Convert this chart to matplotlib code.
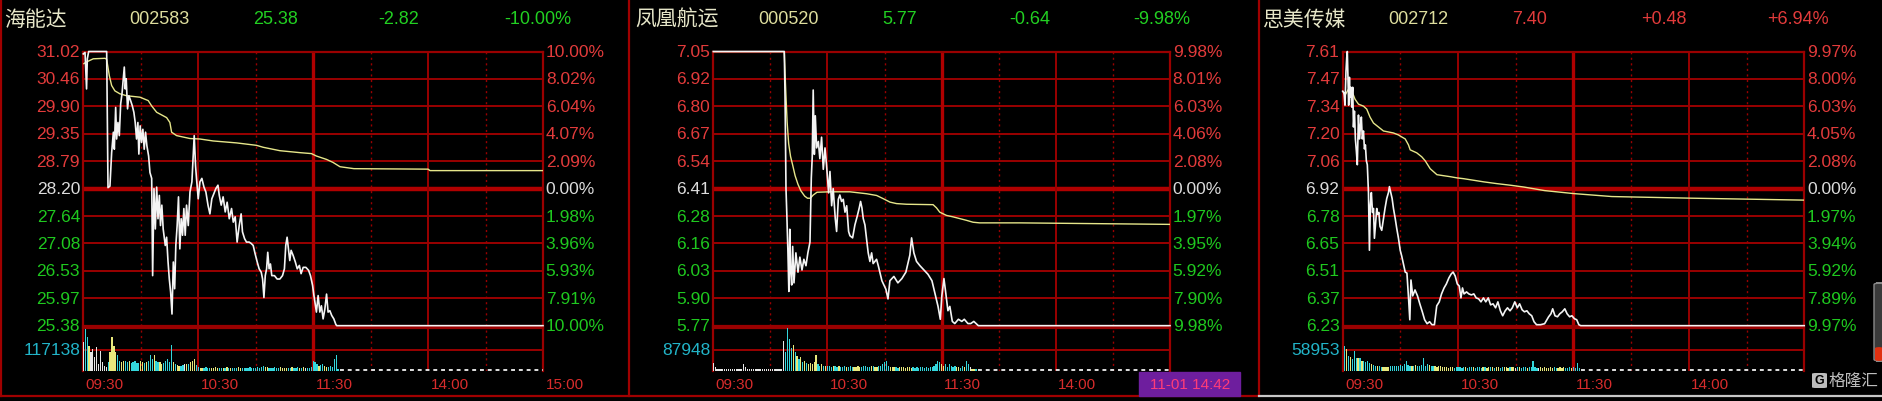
import numpy as np
import matplotlib
matplotlib.use("Agg")
import matplotlib.pyplot as plt
from matplotlib.lines import Line2D
from matplotlib.patches import Rectangle, FancyBboxPatch

# ---- data ----
# minute index: 0 = 09:30, 120 = 11:30/13:00, 240 = 15:00

names = ["海能达", "凤凰航运", "思美传媒"]
codes = ["002583", "000520", "002712"]
last_prices = ["25.38", "5.77", "7.40"]
changes = ["-2.82", "-0.64", "+0.48"]
change_pcts = ["-10.00%", "-9.98%", "+6.94%"]
vol_labels = ["117138", "87948", "58953"]
time_labels = ["09:30", "10:30", "11:30", "14:00", "15:00"]
time_ticks = [0, 60, 120, 180, 240]

price_labels_1 = ["31.02", "30.46", "29.90", "29.35", "28.79", "28.20", "27.64", "27.08", "26.53", "25.97", "25.38"]
pct_labels_1 = ["10.00%", "8.02%", "6.04%", "4.07%", "2.09%", "0.00%", "1.98%", "3.96%", "5.93%", "7.91%", "10.00%"]
price_labels_2 = ["7.05", "6.92", "6.80", "6.67", "6.54", "6.41", "6.28", "6.16", "6.03", "5.90", "5.77"]
pct_labels_2 = ["9.98%", "8.01%", "6.03%", "4.06%", "2.08%", "0.00%", "1.97%", "3.95%", "5.92%", "7.90%", "9.98%"]
price_labels_3 = ["7.61", "7.47", "7.34", "7.20", "7.06", "6.92", "6.78", "6.65", "6.51", "6.37", "6.23"]
pct_labels_3 = ["9.97%", "8.00%", "6.03%", "4.05%", "2.08%", "0.00%", "1.97%", "3.94%", "5.92%", "7.89%", "9.97%"]

# (minute, price) for the white price line
line_1 = [(0, 30.97), (0.9, 31.00), (1.7, 30.25), (2.1, 30.87), (2.8, 31.02), (12.2, 31.02), (12.9, 28.22),
          (13.9, 28.25), (14.8, 28.94), (15.7, 29.36), (16.2, 29.01), (16.9, 29.87), (17.4, 29.22), (18.1, 29.56),
          (18.8, 29.29), (19.5, 29.94), (20.2, 30.15), (20.9, 30.46), (21.4, 30.70), (21.9, 30.25), (22.4, 30.46),
          (23.1, 29.84), (23.8, 30.11), (24.7, 30.01), (25.6, 29.90), (26.4, 29.77), (27.1, 29.56), (27.8, 29.22),
          (28.5, 29.56), (29.0, 28.91), (29.7, 29.49), (30.4, 29.15), (31.1, 29.42), (31.8, 29.01), (32.5, 29.36),
          (33.2, 29.08), (34.1, 28.87), (34.8, 28.53), (35.7, 28.41), (36.2, 26.41), (36.9, 28.20), (37.6, 27.37),
          (38.3, 28.23), (39.0, 27.58), (39.7, 28.06), (40.3, 27.44), (41.0, 27.86), (41.7, 27.37), (42.8, 27.03),
          (43.5, 27.20), (44.2, 26.72), (44.9, 26.34), (45.6, 26.07), (46.3, 25.62), (47.0, 26.69), (47.7, 26.14),
          (48.3, 27.03), (49.0, 27.44), (49.7, 28.03), (50.4, 26.96), (51.1, 27.58), (51.8, 27.24), (52.5, 27.79),
          (53.2, 27.24), (53.9, 27.86), (54.8, 27.44), (55.7, 28.13), (56.7, 28.34), (57.9, 29.29), (58.6, 28.67),
          (59.1, 28.41), (60.0, 27.99), (60.9, 28.34), (61.9, 28.41), (63.0, 28.23), (64.0, 28.13), (65.1, 27.86),
          (66.1, 27.68), (67.1, 27.99), (68.2, 28.10), (69.2, 28.20), (70.3, 28.27), (71.0, 28.06), (72.0, 27.86),
          (73.0, 28.03), (74.1, 27.72), (75.1, 27.92), (76.2, 27.58), (77.4, 27.79), (78.3, 27.51), (79.3, 27.62),
          (80.3, 27.10), (81.4, 27.44), (82.4, 27.68), (83.1, 27.31), (84.2, 27.17), (85.2, 27.10), (86.6, 27.10),
          (87.7, 27.07), (88.7, 27.03), (89.7, 26.86), (90.8, 26.69), (91.8, 26.55), (92.9, 26.48), (93.6, 26.34),
          (94.3, 25.96), (95.0, 26.41), (95.7, 26.55), (96.3, 26.89), (97.0, 26.55), (97.7, 26.65), (98.4, 26.41),
          (99.8, 26.41), (101.2, 26.34), (102.6, 26.34), (104.0, 26.41), (105.0, 26.55), (105.7, 27.03),
          (106.4, 27.20), (107.1, 26.96), (107.8, 26.72), (108.5, 26.93), (109.6, 26.82), (110.7, 26.69),
          (111.7, 26.55), (112.8, 26.62), (113.7, 26.45), (114.8, 26.58), (116.2, 26.58), (117.6, 26.52),
          (118.6, 26.41), (119.7, 26.21), (120.3, 26.03), (121.7, 25.66), (122.6, 26.00), (123.5, 25.66),
          (124.3, 25.79), (125.2, 25.52), (126.1, 25.72), (127.0, 26.03), (127.8, 25.66), (128.7, 25.69),
          (129.7, 25.59), (130.8, 25.52), (131.8, 25.41), (132.3, 25.38), (240, 25.38)]

line_2 = [(0, 7.05), (37.3, 7.05), (37.7, 6.84), (38.2, 6.41), (38.6, 6.30), (39.2, 6.12), (39.7, 5.93),
          (40.2, 6.22), (40.6, 6.03), (41.2, 5.96), (41.7, 6.14), (42.4, 5.97), (43.4, 6.11), (44.5, 6.02),
          (45.5, 6.09), (46.6, 6.03), (47.6, 6.08), (48.7, 6.05), (49.7, 6.11), (50.8, 6.16), (51.5, 6.46),
          (52.0, 6.56), (52.5, 6.87), (53.1, 6.57), (53.6, 6.75), (54.3, 6.60), (55.2, 6.63), (56.0, 6.55),
          (56.9, 6.65), (57.8, 6.50), (58.7, 6.60), (59.5, 6.52), (60.6, 6.39), (61.3, 6.49), (62.2, 6.33),
          (63.0, 6.41), (64.1, 6.27), (64.8, 6.21), (65.7, 6.36), (66.5, 6.38), (67.4, 6.35), (68.3, 6.36),
          (69.2, 6.30), (70.1, 6.33), (71.1, 6.21), (71.8, 6.19), (73.2, 6.18), (74.4, 6.24), (75.6, 6.28),
          (76.7, 6.32), (77.4, 6.35), (78.1, 6.32), (78.8, 6.27), (79.7, 6.24), (80.6, 6.17), (81.4, 6.11),
          (82.3, 6.07), (83.2, 6.11), (84.0, 6.06), (85.8, 6.08), (86.7, 6.05), (88.6, 5.98), (90.7, 5.94),
          (91.8, 5.895), (92.8, 5.98), (94.9, 6.00), (97.0, 5.97), (99.1, 5.99), (101.2, 6.02), (103.3, 6.10),
          (104.2, 6.18), (105.4, 6.11), (106.8, 6.07), (108.6, 6.05), (110.7, 6.03), (112.8, 6.01), (114.9, 5.98),
          (116.5, 5.92), (118.1, 5.86), (119.3, 5.80), (120.1, 5.91), (121.2, 5.99), (122.2, 5.92), (123.3, 5.84),
          (124.3, 5.86), (125.6, 5.79), (126.9, 5.78), (128.8, 5.80), (130.6, 5.79), (131.9, 5.80), (133.8, 5.78),
          (135.3, 5.78), (136.9, 5.79), (139.3, 5.77), (240, 5.77)]

line_3 = [(0, 7.41), (0.7, 7.40), (1.2, 7.34), (1.7, 7.51), (2.1, 7.58), (2.4, 7.61), (2.8, 7.46), (3.1, 7.34),
          (3.5, 7.48), (3.8, 7.38), (4.2, 7.43), (4.7, 7.33), (5.2, 7.43), (5.6, 7.23), (6.1, 7.31), (6.6, 7.17),
          (7.1, 7.11), (7.6, 7.04), (8.2, 7.29), (8.7, 7.17), (9.2, 7.23), (9.7, 7.28), (10.2, 7.17), (10.8, 7.21),
          (11.3, 7.12), (11.8, 7.14), (12.3, 7.06), (12.8, 7.04), (13.4, 6.90), (13.9, 6.61), (14.4, 6.84),
          (14.9, 6.90), (15.5, 6.80), (16.0, 6.82), (16.5, 6.67), (17.0, 6.73), (17.7, 6.82), (18.2, 6.79),
          (18.8, 6.80), (19.4, 6.73), (20.3, 6.71), (21.2, 6.77), (22.0, 6.82), (22.9, 6.87), (23.8, 6.90),
          (24.3, 6.93), (25.0, 6.90), (25.7, 6.87), (26.4, 6.82), (27.3, 6.77), (28.1, 6.72), (29.0, 6.67),
          (29.9, 6.61), (30.7, 6.58), (31.6, 6.54), (32.5, 6.50), (33.4, 6.495), (34.3, 6.36), (34.9, 6.26),
          (35.5, 6.46), (36.4, 6.38), (37.6, 6.41), (38.9, 6.38), (40.1, 6.34), (41.4, 6.30), (42.6, 6.26),
          (43.9, 6.24), (45.2, 6.25), (46.4, 6.235), (47.7, 6.235), (48.9, 6.33), (50.2, 6.35), (51.4, 6.39),
          (52.7, 6.42), (53.9, 6.44), (55.2, 6.47), (56.4, 6.49), (57.4, 6.50), (58.5, 6.48), (59.6, 6.44),
          (60.6, 6.43), (61.5, 6.37), (62.3, 6.42), (63.1, 6.39), (64.4, 6.40), (65.6, 6.39), (66.9, 6.385),
          (68.2, 6.39), (69.4, 6.37), (70.7, 6.365), (71.9, 6.35), (73.2, 6.37), (74.4, 6.35), (75.7, 6.37),
          (76.9, 6.335), (78.2, 6.34), (79.5, 6.32), (80.7, 6.35), (82.0, 6.305), (83.2, 6.28), (84.5, 6.305),
          (85.7, 6.32), (87.0, 6.305), (88.2, 6.32), (89.5, 6.35), (90.8, 6.32), (92.0, 6.34), (93.3, 6.31),
          (94.5, 6.30), (95.8, 6.305), (97.0, 6.29), (98.3, 6.28), (99.5, 6.25), (100.8, 6.235), (102.9, 6.235),
          (105.0, 6.24), (107.1, 6.275), (108.3, 6.29), (109.2, 6.315), (110.4, 6.28), (111.7, 6.275),
          (112.9, 6.29), (114.2, 6.30), (115.5, 6.315), (116.7, 6.29), (118.0, 6.275), (119.2, 6.28),
          (120.5, 6.265), (121.7, 6.26), (122.8, 6.235), (123.8, 6.23), (240, 6.23)]

# (minute, price) for the yellow average-price line
avg_1 = [(0.3, 30.77), (1.4, 30.80), (5.2, 30.87), (11.3, 30.88), (12.2, 30.86), (13.6, 30.52), (14.8, 30.32),
         (16.5, 30.21), (19.1, 30.15), (22.6, 30.11), (29.6, 30.08), (33.9, 30.01), (35.7, 29.90), (38.3, 29.77),
         (43.5, 29.66), (45.2, 29.56), (46.1, 29.36), (48.7, 29.29), (55.7, 29.23), (60.9, 29.22), (67.8, 29.18),
         (80.0, 29.14), (90.4, 29.09), (93.9, 29.05), (102.6, 28.98), (113.0, 28.94), (119.1, 28.92),
         (121.7, 28.87), (127.0, 28.80), (130.3, 28.74), (134.0, 28.65), (141.3, 28.61), (180.0, 28.60),
         (181.0, 28.57), (240, 28.57)]

avg_2 = [(0, 7.05), (37.3, 7.05), (37.7, 6.95), (38.2, 6.84), (38.8, 6.72), (39.6, 6.62), (40.6, 6.56),
         (41.7, 6.52), (43.0, 6.47), (44.5, 6.43), (46.0, 6.40), (48.0, 6.375), (49.5, 6.365), (51.0, 6.365),
         (52.5, 6.38), (54.5, 6.393), (61.3, 6.395), (71.8, 6.395), (80.6, 6.386), (85.8, 6.378), (89.3, 6.363),
         (92.8, 6.347), (96.3, 6.34), (101.5, 6.337), (115.5, 6.335), (117.3, 6.32), (119.0, 6.30),
         (122.5, 6.285), (126.0, 6.278), (129.5, 6.27), (133.0, 6.262), (136.5, 6.253), (140.0, 6.25),
         (161.0, 6.25), (240, 6.243)]

avg_3 = [(0, 7.41), (1.2, 7.39), (3.0, 7.42), (4.7, 7.41), (5.6, 7.39), (6.4, 7.37), (8.2, 7.345), (10.8, 7.335),
         (12.5, 7.32), (14.2, 7.28), (16.0, 7.25), (18.6, 7.23), (21.2, 7.21), (23.8, 7.205), (26.4, 7.20),
         (29.0, 7.19), (30.7, 7.18), (32.5, 7.17), (34.2, 7.14), (35.1, 7.115), (38.5, 7.10), (41.1, 7.08),
         (42.9, 7.06), (45.5, 7.02), (49.0, 6.99), (52.4, 6.985), (55.9, 6.98), (59.4, 6.974), (62.8, 6.97),
         (68.1, 6.962), (73.3, 6.954), (80.2, 6.945), (87.2, 6.937), (94.1, 6.928), (105.0, 6.91),
         (120.0, 6.895), (140.0, 6.88), (180.0, 6.872), (240, 6.862)]

# per-minute volume (thousand lots), from 09:30 on; untraded minutes after that
vol_1 = [157, 232, 185, 138, 103, 119, 77, 131, 37, 110, 49, 28, 21, 49, 103, 185, 138, 103, 84, 56,
         49, 56, 51, 47, 51, 42, 47, 51, 40, 44, 51, 47, 42, 47, 51, 84, 66, 84, 56, 47,
         47, 37, 42, 56, 66, 47, 140, 47, 37, 33, 28, 28, 33, 37, 37, 37, 47, 56, 66, 33,
         21, 16, 14, 16, 18, 14, 16, 14, 16, 18, 16, 14, 16, 16, 14, 18, 16, 14, 16, 14,
         16, 18, 14, 16, 14, 16, 14, 18, 16, 14, 16, 18, 16, 21, 28, 23, 18, 16, 14, 16,
         18, 16, 14, 21, 16, 14, 16, 14, 16, 18, 16, 16, 21, 14, 16, 18, 16, 14, 16, 18,
         56, 47, 37, 28, 33, 37, 28, 23, 21, 28, 21, 66, 89, 12]

vol_2 = [32, 14, 5, 5, 5, 5, 5, 5, 5, 5, 5, 5, 5, 5, 5, 5, 28, 14, 5, 5,
         5, 5, 5, 5, 5, 5, 5, 5, 5, 5, 5, 5, 5, 5, 5, 5, 9, 125, 79, 176,
         130, 93, 106, 79, 62, 49, 55, 35, 42, 32, 28, 32, 28, 35, 65, 28, 21, 26, 21, 18,
         21, 18, 16, 21, 18, 16, 18, 14, 16, 18, 14, 16, 18, 16, 14, 16, 18, 14, 16, 21,
         18, 16, 14, 18, 21, 16, 14, 18, 21, 28, 35, 42, 21, 16, 14, 16, 14, 12, 14, 16,
         14, 12, 14, 16, 12, 14, 12, 14, 12, 14, 16, 12, 14, 12, 14, 16, 21, 28, 42, 35,
         28, 21, 26, 16, 28, 18, 14, 21, 16, 14, 12, 18, 14, 42, 28, 16, 9, 7, 5]

vol_3 = [118, 68, 59, 42, 38, 33, 55, 35, 34, 35, 28, 26, 24, 26, 22, 20, 16, 14, 14, 12,
         9, 9, 11, 9, 11, 12, 14, 12, 14, 12, 16, 14, 18, 28, 16, 14, 12, 14, 16, 14,
         12, 16, 34, 14, 18, 16, 12, 14, 12, 11, 12, 14, 9, 9, 11, 8, 9, 10, 8, 9,
         11, 9, 8, 10, 9, 8, 11, 9, 10, 8, 9, 11, 8, 9, 10, 8, 9, 11, 9, 8,
         10, 9, 8, 11, 9, 10, 8, 9, 11, 9, 8, 10, 9, 8, 11, 9, 8, 10, 9, 28,
         9, 8, 8, 9, 8, 9, 8, 8, 9, 8, 9, 8, 8, 9, 8, 9, 8, 8, 9, 8,
         9, 8, 21, 7]

# ---- look ----
W, H = 1882, 402
BG = "black"
GRID = "#9a0000"
RED_TXT = "#e23b3b"
GREEN_TXT = "#1fc81f"
WHITE_TXT = "#dcdcdc"
NUM_FONT = "Liberation Sans"
CJK_FONT = ["Noto Sans CJK SC", "DejaVu Sans"]

plot_x = [(83.3, 543.0), (713.3, 1170.0), (1342.7, 1804.2)]
price_y = (52.5, 326.7)
vol_y = (329.3, 371.7)
title_x = [(4, 129, 253, 378, 504), (635, 758, 882, 1009, 1133), (1263, 1388, 1512, 1641, 1767)]


def fx(x):
    return x / W


def fy(y):
    return 1 - y / H


def rect(x0, x1, y0, y1):
    return [fx(x0), fy(y1), (x1 - x0) / W, (y1 - y0) / H]


def vgrid(ax):
    for m in [30, 90, 150, 210]:
        ax.axvline(m, color=GRID, lw=1.0, ls=(0, (1.5, 2.5)), zorder=1)
    for m in [60, 180]:
        ax.axvline(m, color=GRID, lw=1.4, zorder=1)
    ax.axvline(120, color="#b00000", lw=2.4, zorder=1)


def draw_panel(i, price_labels, pct_labels, line, avg, vol, vol_label, up):
    x0, x1 = plot_x[i]
    hi, lo = float(price_labels[0]), float(price_labels[-1])
    levels = np.linspace(hi, lo, len(price_labels))

    ax = fig.add_axes(rect(x0, x1, *price_y))
    ax.set_facecolor(BG)
    ax.set_xlim(0, 240)
    ax.set_ylim(lo, hi)
    ax.set_xticks([])
    ax.set_yticks([])
    for s in ax.spines.values():
        s.set_color(GRID)
        s.set_linewidth(1.6)
    for k, v in enumerate(levels[1:-1], start=1):
        mid = k == len(levels) // 2
        ax.axhline(v, color="#b00000" if mid else GRID, lw=3.2 if mid else 1.4, zorder=1)
    vgrid(ax)

    t, p = np.array(line).T
    at, ap = np.array(avg).T
    ax.plot(at, ap, color="#e6e68a", lw=1.0, zorder=3)
    ax.plot(t, p, color="#f4f4f4", lw=1.2, zorder=4, clip_on=False)

    ytr = ax.get_yaxis_transform()
    half = len(levels) // 2
    for k, v in enumerate(levels):
        c = RED_TXT if k < half else (WHITE_TXT if k == half else GREEN_TXT)
        ax.text(-0.007, v, price_labels[k], transform=ytr, ha="right", va="center",
                color=c, fontsize=12.5, family=NUM_FONT)
        ax.text(1.006, v, pct_labels[k], transform=ytr, ha="left", va="center",
                color=c, fontsize=12.5, family=NUM_FONT)

    # volume
    vax = fig.add_axes(rect(x0, x1, *vol_y))
    vax.set_facecolor(BG)
    vmid = float(vol_label) / 1000.0
    vax.set_xlim(0, 240)
    vax.set_ylim(0, 2 * vmid)
    vax.set_xticks([])
    vax.set_yticks([])
    for name, s in vax.spines.items():
        s.set_color(GRID)
        s.set_linewidth(1.6)
    vax.spines["bottom"].set_visible(False)
    vax.axhline(vmid, color=GRID, lw=1.4, zorder=1)
    vgrid(vax)

    m = np.arange(len(vol))
    now = np.interp(m, t, p)
    before = np.interp(m - 1, t, p)
    colors = np.where(now > before + 1e-9, "#e8e87c",
                      np.where(now < before - 1e-9, "#34d6dc", "#e6e6e6"))
    vax.bar(m, vol, width=0.65, color=colors, zorder=3)
    vax.plot([len(vol), 240], [0.04 * vmid, 0.04 * vmid], color="#e0e0e0", lw=1.4,
             ls=(0, (2, 2)), zorder=3)
    vax.text(-0.007, vmid, vol_label, transform=vax.get_yaxis_transform(), ha="right",
             va="center", color="#22b4c8", fontsize=12.5, family=NUM_FONT)

    xtr = vax.get_xaxis_transform()
    n_labels = 5 if i == 0 else 4
    for k in range(n_labels):
        vax.text(time_ticks[k] + 1.3, -0.31, time_labels[k], transform=xtr, ha="left", va="center",
                 color="#d82c2c", fontsize=11, family=NUM_FONT, clip_on=False)

    # header row
    tx = title_x[i]
    val_c = RED_TXT if up else "#22d022"
    fig.text(fx(tx[0]), fy(20), names[i], ha="left", va="center", color="#e6e6c8",
             fontsize=15, family=CJK_FONT)
    fig.text(fx(tx[1]), fy(20), codes[i], ha="left", va="center", color="#dede9e",
             fontsize=13, family=NUM_FONT)
    fig.text(fx(tx[2]), fy(20), last_prices[i], ha="left", va="center", color=val_c,
             fontsize=13, family=NUM_FONT)
    fig.text(fx(tx[3]), fy(20), changes[i], ha="left", va="center", color=val_c,
             fontsize=13, family=NUM_FONT)
    fig.text(fx(tx[4]), fy(20), change_pcts[i], ha="left", va="center", color=val_c,
             fontsize=13, family=NUM_FONT)


fig = plt.figure(figsize=(W / 100, H / 100), dpi=100, facecolor=BG)

draw_panel(0, price_labels_1, pct_labels_1, line_1, avg_1, vol_1, vol_labels[0], False)
draw_panel(1, price_labels_2, pct_labels_2, line_2, avg_2, vol_2, vol_labels[1], False)
draw_panel(2, price_labels_3, pct_labels_3, line_3, avg_3, vol_3, vol_labels[2], True)

# panel frames
for xb in [1, 629, 1259]:
    fig.add_artist(Line2D([fx(xb), fx(xb)], [fy(0), fy(397)], transform=fig.transFigure,
                          color="#a00000", lw=1.6))
fig.add_artist(Line2D([0, fx(1259)], [fy(397), fy(397)], transform=fig.transFigure,
                      color="#a00000", lw=1.6))
fig.add_artist(Line2D([fx(1259), 1], [fy(397), fy(397)], transform=fig.transFigure,
                      color="#c8c8c8", lw=1.6))

# timestamp box in the middle panel
fig.add_artist(Rectangle((fx(1139), fy(397)), (1240 - 1139) / W, (397 - 373) / H,
                         transform=fig.transFigure, color="#6e1e9e", zorder=5))
fig.text(fx(1190), fy(385), "11-01 14:42", ha="center", va="center", color="#ff3c78",
         fontsize=11, family=NUM_FONT, zorder=6)

# scroll gauge on the right edge
fig.add_artist(FancyBboxPatch((fx(1874), fy(362)), 10 / W, 78 / H,
                              boxstyle="round,pad=0,rounding_size=0.004",
                              transform=fig.transFigure, fc="#3a3a3a", ec="#8a8a8a", lw=1))
fig.add_artist(FancyBboxPatch((fx(1875), fy(362)), 8 / W, 14 / H,
                              boxstyle="round,pad=0,rounding_size=0.003",
                              transform=fig.transFigure, fc="#e03010", ec="none"))

# watermark
fig.add_artist(FancyBboxPatch((fx(1812), fy(389)), 15 / W, 15 / H,
                              boxstyle="round,pad=0,rounding_size=0.002",
                              transform=fig.transFigure, fc="#bdbdbd", ec="none"))
fig.text(fx(1819.5), fy(381.5), "G", ha="center", va="center", color="black",
         fontsize=9, weight="bold", family=NUM_FONT)
fig.text(fx(1829), fy(381.5), "格隆汇", ha="left", va="center", color="#bdbdbd",
         fontsize=12, family=CJK_FONT)

fig.savefig("out.png", dpi=100, facecolor=BG)
